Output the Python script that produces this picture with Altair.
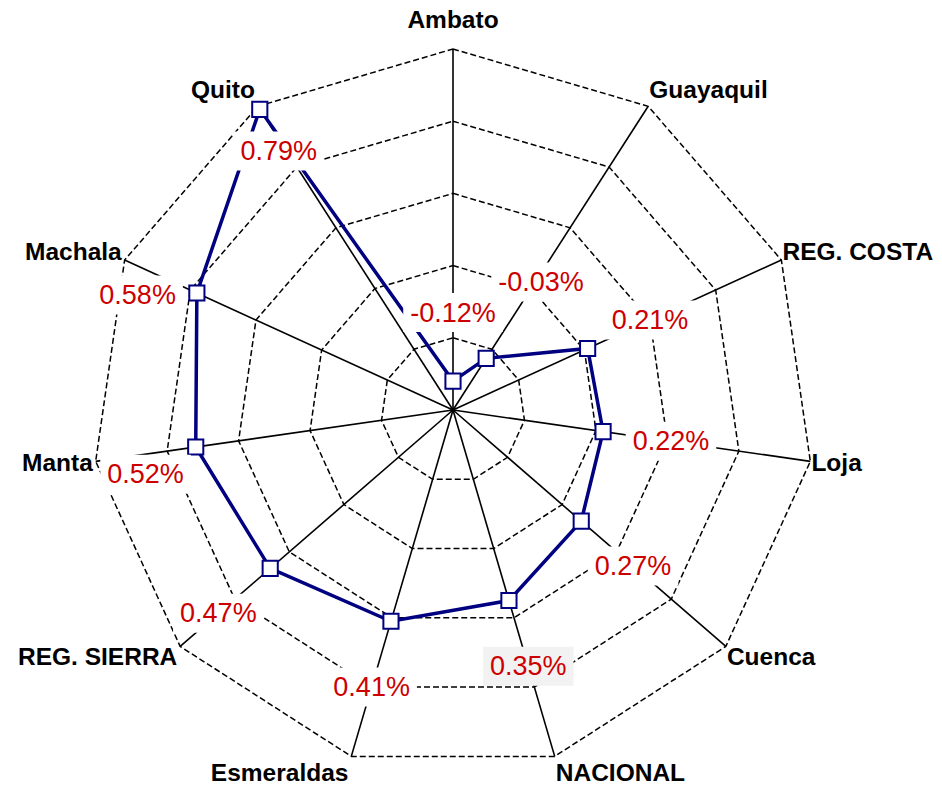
import altair as alt
import pandas as pd

# ---------------- data ----------------
categories = ["Ambato", "Guayaquil", "REG. COSTA", "Loja", "Cuenca", "NACIONAL",
              "Esmeraldas", "REG. SIERRA", "Manta", "Machala", "Quito"]
values = [-0.12, -0.03, 0.21, 0.22, 0.27, 0.35, 0.41, 0.47, 0.52, 0.58, 0.79]
value_labels = ["-0.12%", "-0.03%", "0.21%", "0.22%", "0.27%", "0.35%",
                "0.41%", "0.47%", "0.52%", "0.58%", "0.79%"]
ring_levels = [0.0, 0.2, 0.4, 0.6, 0.8]
axis_min, axis_max = -0.2, 0.8

# ---------------- layout ----------------
N = len(categories)
W, H = 926, 777
CX, CY, R = 445, 402, 361
x_dom = [-CX / R, (W - CX) / R]
y_dom = [-(H - CY) / R, CY / R]
VAL_FS = 27
CAT_FS = 24.5

# label placement nudges (radial shift in axis units, angle shift in degrees)
LABEL_DR = 0.19
nudge = {"Guayaquil": (0.26, 1.8), "Manta": (0.15, -3.6),
         "Machala": (0.15, -4.5), "Quito": (-0.125, -1.2)}

_w = {"0": .556, "1": .556, "2": .556, "3": .556, "4": .556, "5": .556, "6": .556,
      "7": .556, "8": .556, "9": .556, ".": .278, "%": .889, "-": .333}


def text_w(s, size):
    return sum(_w.get(c, .6) for c in s) * size


df = pd.DataFrame({
    "category": categories,
    "value": values,
    "label": value_labels,
    "idx": list(range(N)),
    "boxw": [text_w(s, VAL_FS) + 14 for s in value_labels],
})

rings = pd.DataFrame([
    {"level": lv, "idx": i} for lv in ring_levels for i in range(N)
])

span = axis_max - axis_min
ANG = f"datum.idx * 2 * PI / {N}"


def case_expr(pos, default):
    e = str(default)
    for k, v in nudge.items():
        e = f"(datum.category == '{k}' ? {v[pos]} : {e})"
    return e


xs = alt.Scale(domain=x_dom, nice=False, zero=False)
ys = alt.Scale(domain=y_dom, nice=False, zero=False)


def X(f="x"):
    return alt.X(f"{f}:Q", scale=xs, axis=None)


def Y(f="y"):
    return alt.Y(f"{f}:Q", scale=ys, axis=None)


base = alt.Chart(df).transform_calculate(
    a=ANG
).transform_calculate(
    r=f"(datum.value - ({axis_min})) / {span}",
    la=f"datum.a + ({case_expr(1, 0)}) * PI / 180",
).transform_calculate(
    x="datum.r * sin(datum.a)",
    y="datum.r * cos(datum.a)",
    lr=f"datum.r + {case_expr(0, LABEL_DR)}",
    sx="sin(datum.a)",
    cy="cos(datum.a)",
).transform_calculate(
    lx="datum.lr * sin(datum.la)",
    ly="datum.lr * cos(datum.la)",
    catx="datum.sx + (datum.sx > 0.1 ? 0.003 : (datum.sx < -0.1 ? -0.008 : 0))",
    caty="datum.cy * (abs(datum.sx) < 0.1 ? 1.077 : 1.05)",
)

# dashed rings
ring_chart = alt.Chart(rings).transform_calculate(
    a=ANG,
    rr=f"(datum.level - ({axis_min})) / {span}",
).transform_calculate(
    x="datum.rr * sin(datum.a)",
    y="datum.rr * cos(datum.a)",
).mark_line(
    interpolate="linear-closed", color="black", strokeWidth=1.5, strokeDash=[6, 3]
).encode(
    x=X(), y=Y(), detail="level:N", order="idx:Q"
)

# spokes
spokes = base.transform_calculate(
    ox="sin(datum.a)", oy="cos(datum.a)"
).mark_rule(color="black", strokeWidth=1.6).encode(
    x=X("ox"), y=Y("oy"), x2=alt.datum(0), y2=alt.datum(0)
)

# data polygon
line = base.mark_line(
    interpolate="linear-closed", color="#000080", strokeWidth=3.5
).encode(x=X(), y=Y(), order="idx:Q")

points = base.mark_point(
    shape="square", filled=True, fill="white", stroke="#000080",
    strokeWidth=2, size=230, opacity=1
).encode(x=X(), y=Y())

# label boxes
boxes = base.transform_calculate(
    bx1=f"datum.lx - datum.boxw / 2 / {R}",
    bx2=f"datum.lx + datum.boxw / 2 / {R}",
    by1=f"datum.ly - 19.5 / {R}",
    by2=f"datum.ly + 19.5 / {R}",
).mark_rect().encode(
    x=X("bx1"), x2="bx2:Q", y=Y("by1"), y2="by2:Q",
    color=alt.condition(alt.datum.category == "NACIONAL",
                        alt.value("#F2F2F2"), alt.value("white")),
)

vlabels = base.mark_text(
    font="Liberation Sans", fontSize=VAL_FS, color="#CC0000",
    align="center", baseline="middle", dy=1
).encode(x=X("lx"), y=Y("ly"), text="label:N")


def cat_layer(filt, align):
    return base.transform_filter(filt).mark_text(
        font="Liberation Sans", fontSize=CAT_FS, fontWeight="bold", color="black",
        align=align, baseline="middle"
    ).encode(x=X("catx"), y=Y("caty"), text="category:N")


cat_top = cat_layer("abs(datum.sx) <= 0.1", "center")
cat_right = cat_layer("datum.sx > 0.1", "left")
cat_left = cat_layer("datum.sx < -0.1", "right")

chart = alt.layer(
    ring_chart, spokes, line, points, boxes, vlabels, cat_top, cat_right, cat_left
).properties(
    width=W, height=H, padding=0, autosize="none", background="white"
).configure_view(stroke=None)

chart.save("out.html", embed_options={"renderer": "svg", "actions": False})
